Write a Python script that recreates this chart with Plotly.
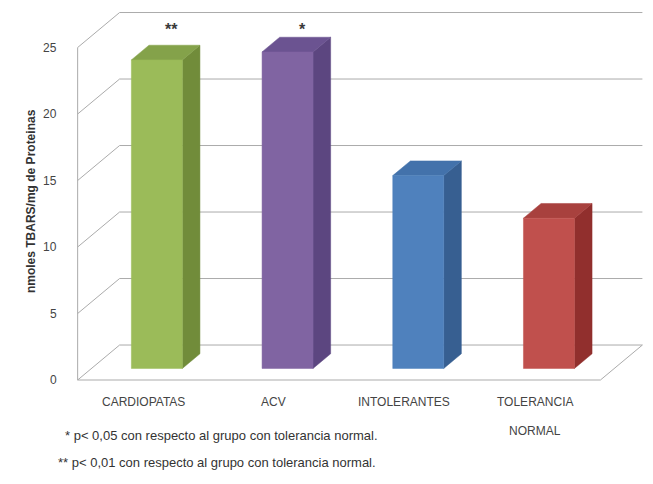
import plotly.graph_objects as go

# Data
categories = ["CARDIOPATAS", "ACV", "INTOLERANTES", "TOLERANCIA\nNORMAL"]
values = [23.2, 23.8, 14.5, 11.3]
significance = ["**", "*", "", ""]
y_ticks = [0, 5, 10, 15, 20, 25]
y_title = "nmoles TBARS/mg de Proteinas"
footnotes = [
    "* p< 0,05 con respecto al grupo con tolerancia normal.",
    "** p< 0,01 con respecto al grupo con tolerancia normal.",
]

front_colors = ["#9BBB59", "#8064A2", "#4F81BD", "#C0504D"]
side_colors = ["#718C3A", "#5C4680", "#375F91", "#912F2D"]
top_colors = ["#84A24A", "#6B5391", "#4372AB", "#A8413E"]

# Oblique projection settings (x in category units, y in value units)
DX, DY = 0.321, 2.63          # shift for full floor depth
X_LEFT, X_RIGHT = -0.5, 3.5
Y_MAX = 25
BAR_W = 0.39
D_FRONT, D_BACK = 0.33, 0.75

grid_color = "#ababab"


def proj(x, v, d):
    return x + d * DX, v + d * DY


fig = go.Figure()


def add_line(pts, color=grid_color, width=1):
    xs = [p[0] for p in pts]
    ys = [p[1] for p in pts]
    fig.add_trace(go.Scatter(x=xs, y=ys, mode="lines",
                             line=dict(color=color, width=width),
                             hoverinfo="skip", showlegend=False))


def add_poly(pts, color):
    xs = [p[0] for p in pts] + [pts[0][0]]
    ys = [p[1] for p in pts] + [pts[0][1]]
    fig.add_trace(go.Scatter(x=xs, y=ys, mode="lines", fill="toself",
                             fillcolor=color, line=dict(color=color, width=0.5),
                             hoverinfo="skip", showlegend=False))


# Back wall gridlines and side wall diagonals
for v in y_ticks:
    add_line([proj(X_LEFT, v, 0), proj(X_LEFT, v, 1), proj(X_RIGHT, v, 1)])

# Front-left vertical axis edge
add_line([proj(X_LEFT, 0, 0), proj(X_LEFT, Y_MAX, 0)])

# Floor outline
add_line([proj(X_LEFT, 0, 0), proj(X_RIGHT, 0, 0), proj(X_RIGHT, 0, 1)])

# Bars
for i, val in enumerate(values):
    xl, xr = i - BAR_W / 2, i + BAR_W / 2
    side = [proj(xr, 0, D_FRONT), proj(xr, 0, D_BACK),
            proj(xr, val, D_BACK), proj(xr, val, D_FRONT)]
    top = [proj(xl, val, D_FRONT), proj(xr, val, D_FRONT),
           proj(xr, val, D_BACK), proj(xl, val, D_BACK)]
    front = [proj(xl, 0, D_FRONT), proj(xr, 0, D_FRONT),
             proj(xr, val, D_FRONT), proj(xl, val, D_FRONT)]
    add_poly(side, side_colors[i])
    add_poly(top, top_colors[i])
    add_poly(front, front_colors[i])

    if significance[i]:
        sx = proj(i, 0, 0.68)[0]
        fig.add_annotation(x=sx, y=Y_MAX, text="<b>" + significance[i] + "</b>",
                           showarrow=False, yanchor="middle", yshift=18,
                           font=dict(size=16, color="#3a3a3a"))

# Y tick labels
for v in y_ticks:
    fig.add_annotation(x=X_LEFT, y=v, text=str(v), showarrow=False,
                       xanchor="right", xshift=-19,
                       font=dict(size=12, color="#444444"))

# Category labels
for i, cat in enumerate(categories):
    lines = cat.split("\n")
    for k, line in enumerate(lines):
        fig.add_annotation(x=i, y=0, text=line, showarrow=False,
                           yshift=-22 - 29 * k,
                           font=dict(size=12, color="#444444"))

# Y axis title
fig.add_annotation(x=0.034, y=0.585, xref="paper", yref="paper",
                   text="<b>" + y_title + "</b>", textangle=-90,
                   showarrow=False, font=dict(size=12, color="#333333"))

# Footnotes
fig.add_annotation(x=0.097, y=0.081, xref="paper", yref="paper",
                   text=footnotes[0], showarrow=False, xanchor="left",
                   font=dict(size=13, color="#333333"))
fig.add_annotation(x=0.086, y=0.025, xref="paper", yref="paper",
                   text=footnotes[1], showarrow=False, xanchor="left",
                   font=dict(size=13, color="#333333"))

x_unit = 130.7
y_unit = 13.3
x0 = -143 / x_unit
y_top = 380 / y_unit
fig.update_layout(
    width=653, height=484,
    margin=dict(l=0, r=0, t=0, b=0),
    paper_bgcolor="white", plot_bgcolor="white",
    font=dict(family="Liberation Sans, Arial, sans-serif"),
    xaxis=dict(range=[x0, x0 + 653 / x_unit], visible=False, fixedrange=True),
    yaxis=dict(range=[y_top - 484 / y_unit, y_top], visible=False, fixedrange=True),
    showlegend=False,
)

fig.write_html("out.html")
